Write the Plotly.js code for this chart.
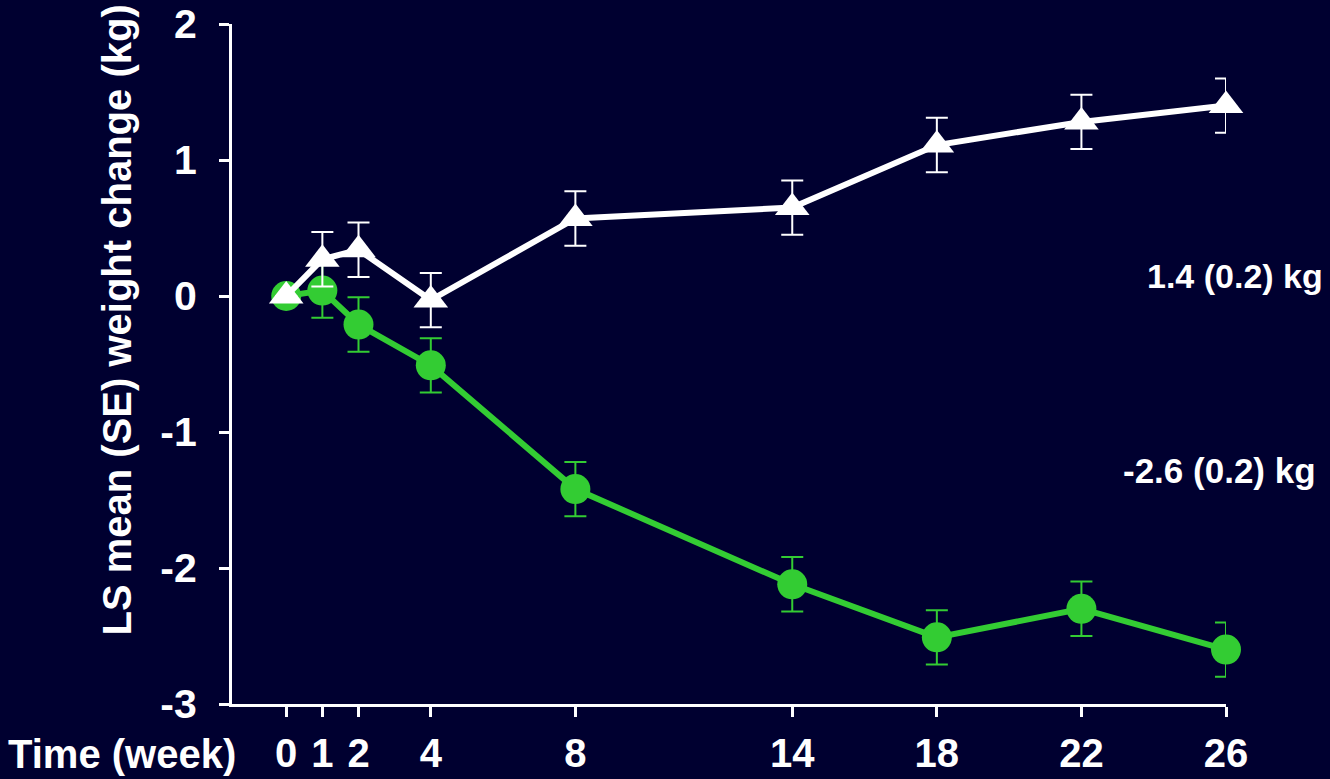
<!DOCTYPE html>
<html>
<head>
<meta charset="utf-8">
<script src="https://cdn.plot.ly/plotly-3.0.1.min.js"></script>
<style>
  html, body { margin: 0; padding: 0; background: #000030; }
  #chart { width: 1330px; height: 779px; }
</style>
</head>
<body>
<div id="chart"></div>
<script>
// Study weeks at which weight was measured
const weeks = [0, 1, 2, 4, 8, 14, 18, 22, 26];
const weekLabels = ['0', '1', '2', '4', '8', '14', '18', '22', '26'];

// LS mean weight change (kg) and standard errors
const comparatorMean = [0, 0.27, 0.34, -0.03, 0.57, 0.65, 1.11, 1.28, 1.4];
const comparatorSE   = [0, 0.2, 0.2, 0.2, 0.2, 0.2, 0.2, 0.2, 0.2];
const treatmentMean  = [0, 0.04, -0.21, -0.51, -1.42, -2.12, -2.51, -2.30, -2.6];
const treatmentSE    = [0, 0.2, 0.2, 0.2, 0.2, 0.2, 0.2, 0.2, 0.2];

// End-of-study labels
const comparatorLabel = '1.4 (0.2) kg';
const treatmentLabel = '-2.6 (0.2) kg';

// Y ticks, labelled with a plain hyphen for negatives
const yTicks = [2, 1, 0, -1, -2, -3];
const yTickLabels = ['2', '1', '0', '-1', '-2', '-3'];

const FONT = 'Liberation Sans, Arial, sans-serif';
const GREEN = '#33CC33';
const WHITE = '#FFFFFF';

const treatment = {
  x: weeks, y: treatmentMean, type: 'scatter', mode: 'lines+markers',
  cliponaxis: false,
  line: { color: GREEN, width: 6 },
  marker: { symbol: 'circle', size: 30, color: GREEN },
  error_y: { type: 'data', array: treatmentSE, visible: true, color: GREEN, thickness: 2, width: 11 },
  showlegend: false, hoverinfo: 'skip'
};

const comparator = {
  x: weeks, y: comparatorMean, type: 'scatter', mode: 'lines+markers',
  cliponaxis: false,
  line: { color: WHITE, width: 6 },
  marker: { symbol: 'triangle-up', size: 30, color: WHITE },
  error_y: { type: 'data', array: comparatorSE, visible: true, color: WHITE, thickness: 2, width: 11 },
  showlegend: false, hoverinfo: 'skip'
};

const layout = {
  width: 1330, height: 779,
  paper_bgcolor: '#000030', plot_bgcolor: '#000030',
  margin: { l: 232, r: 104, t: 24, b: 75 },
  font: { family: FONT, color: WHITE, size: 36, weight: 'bold' },
  xaxis: {
    range: [-1.5, 26], tickmode: 'array', tickvals: weeks, ticktext: weekLabels,
    showgrid: false, zeroline: false, showline: true, linecolor: WHITE, linewidth: 3,
    ticks: 'outside', ticklen: 10, tickwidth: 3, tickcolor: WHITE,
    tickfont: { family: FONT, size: 40, color: WHITE, weight: 'bold' },
    ticklabelstandoff: 2, automargin: false
  },
  yaxis: {
    range: [-3, 2], tickmode: 'array', tickvals: yTicks, ticktext: yTickLabels,
    showgrid: false, zeroline: false, showline: true, linecolor: WHITE, linewidth: 3,
    ticks: 'outside', ticklen: 10, tickwidth: 3, tickcolor: WHITE,
    tickfont: { family: FONT, size: 41, color: WHITE, weight: 'bold' },
    ticklabelstandoff: 14, automargin: false
  },
  annotations: [
    { xref: 'paper', yref: 'paper', x: -0.116, y: 0.565, xanchor: 'center', yanchor: 'middle',
      text: 'LS mean (SE) weight change (kg)', textangle: -90, showarrow: false,
      font: { family: FONT, size: 40, color: WHITE, weight: 'bold' } },
    { xref: 'paper', yref: 'paper', x: -0.111, y: -0.074, xanchor: 'center', yanchor: 'middle',
      text: 'Time (week)', showarrow: false,
      font: { family: FONT, size: 40, color: WHITE, weight: 'bold' } },
    { xref: 'paper', yref: 'y', x: 1.1, y: 0.15, xanchor: 'right', yanchor: 'middle',
      text: comparatorLabel, showarrow: false,
      font: { family: FONT, size: 34, color: WHITE, weight: 'bold' } },
    { xref: 'paper', yref: 'y', x: 1.093, y: -1.28, xanchor: 'right', yanchor: 'middle',
      text: treatmentLabel, showarrow: false,
      font: { family: FONT, size: 35, color: WHITE, weight: 'bold' } }
  ]
};

Plotly.newPlot('chart', [treatment, comparator], layout, { staticPlot: true, displayModeBar: false });
</script>
</body>
</html>
